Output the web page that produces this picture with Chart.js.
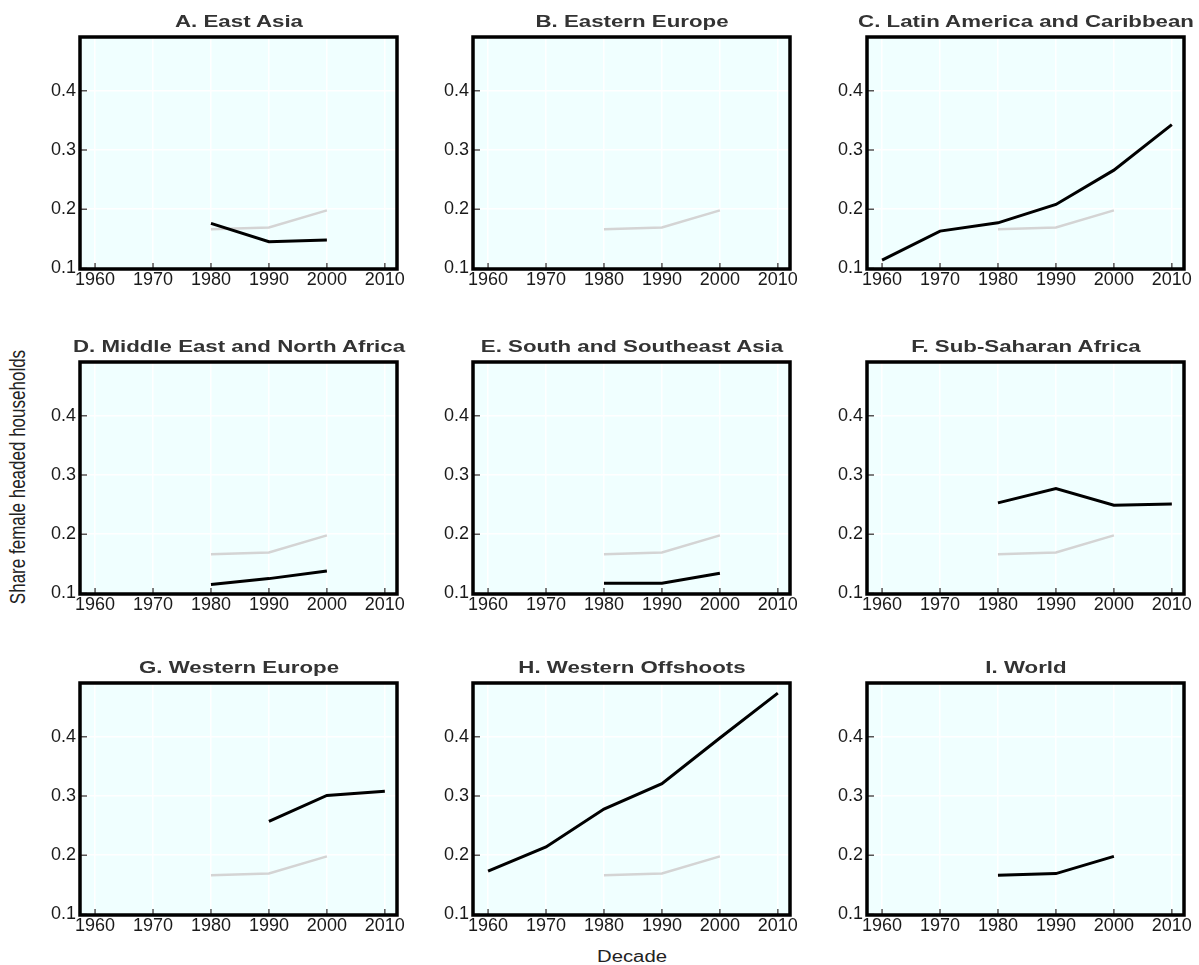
<!DOCTYPE html>
<html>
<head>
<meta charset="utf-8">
<script src="https://cdn.jsdelivr.net/npm/chart.js@4.4.0/dist/chart.umd.min.js"></script>
<style>
  body { margin: 0; background: #fff; }
  #page { position: relative; width: 1199px; height: 965px; overflow: hidden; background: #fff; }
  .panel { position: absolute; }
  .title {
    position: absolute; white-space: nowrap; color: #333;
    font: bold 16.5px "Liberation Sans", Arial, sans-serif;
    transform: translate(-50%, -50%) scaleX(1.35);
  }
  #ytitle {
    position: absolute; left: 19px; top: 477px; white-space: nowrap; color: #222;
    font: 17px "Liberation Sans", Arial, sans-serif;
    transform: translate(-50%, -50%) rotate(-90deg) scaleY(1.25);
  }
  #xtitle {
    position: absolute; left: 632px; top: 957px; white-space: nowrap; color: #222;
    font: 16px "Liberation Sans", Arial, sans-serif;
    transform: translate(-50%, -50%) scaleX(1.27);
  }
</style>
</head>
<body>
<div id="page">
  <div id="ytitle">Share female headed households</div>
  <div id="xtitle">Decade</div>
</div>
<script>
  const decades = [1960, 1970, 1980, 1990, 2000, 2010];
  const yTicks = [0.1, 0.2, 0.3, 0.4];

  // grey reference line = world
  const world            = [null, null, 0.166, 0.169, 0.198, null];
  const eastAsia         = [null, null, 0.176, 0.145, 0.148, null];
  const easternEurope    = [null, null, null, null, null, null];
  const latinAmerica     = [0.114, 0.163, 0.177, 0.208, 0.266, 0.343];
  const middleEast       = [null, null, 0.115, 0.125, 0.138, null];
  const southAsia        = [null, null, 0.117, 0.117, 0.134, null];
  const subSaharan       = [null, null, 0.253, 0.277, 0.249, 0.251];
  const westernEurope    = [null, null, null, 0.257, 0.301, 0.308];
  const westernOffshoots = [0.173, 0.214, 0.278, 0.321, 0.398, 0.474];

  const panelTitles = [
    "A. East Asia", "B. Eastern Europe", "C. Latin America and Caribbean",
    "D. Middle East and North Africa", "E. South and Southeast Asia", "F. Sub-Saharan Africa",
    "G. Western Europe", "H. Western Offshoots", "I. World"
  ];
  const panelSeries = [
    eastAsia, easternEurope, latinAmerica,
    middleEast, southAsia, subSaharan,
    westernEurope, westernOffshoots, world
  ];

  // plot-area layout
  const colLeft = [80, 473, 867];
  const rowTop = [37, 362, 683];
  const plotW = 317, plotH = 232;
  const padL = 60, padT = 10, padR = 20, padB = 28;

  const page = document.getElementById("page");

  const panelFrame = {
    id: "panelFrame",
    beforeDraw(chart) {
      const { ctx, chartArea: a } = chart;
      ctx.save();
      ctx.fillStyle = "#f0ffff";
      ctx.fillRect(a.left, a.top, a.width, a.height);
      ctx.restore();
    },
    afterDraw(chart) {
      const { ctx, chartArea: a, scales } = chart;
      ctx.save();
      ctx.strokeStyle = "#555";
      ctx.lineWidth = 1.5;
      ctx.beginPath();
      scales.y.ticks.forEach(t => {
        const y = scales.y.getPixelForValue(t.value);
        ctx.moveTo(a.left, y);
        ctx.lineTo(a.left + 7, y);
      });
      scales.x.ticks.forEach(t => {
        const x = scales.x.getPixelForValue(t.value);
        ctx.moveTo(x, a.bottom);
        ctx.lineTo(x, a.bottom - 6);
      });
      ctx.stroke();
      ctx.strokeStyle = "#000";
      ctx.lineWidth = 3.5;
      ctx.strokeRect(a.left, a.top, a.width, a.height);
      ctx.restore();
    }
  };

  function toPoints(values) {
    return decades.map((d, i) => ({ x: d, y: values[i] }));
  }

  panelTitles.forEach((title, i) => {
    const col = i % 3, row = Math.floor(i / 3);
    const left = colLeft[col], top = rowTop[row];

    const wrap = document.createElement("div");
    wrap.className = "panel";
    wrap.style.left = (left - padL) + "px";
    wrap.style.top = (top - padT) + "px";
    const canvas = document.createElement("canvas");
    canvas.width = padL + plotW + padR;
    canvas.height = padT + plotH + padB;
    wrap.appendChild(canvas);
    page.appendChild(wrap);

    const t = document.createElement("div");
    t.className = "title";
    t.textContent = title;
    t.style.left = (left + plotW / 2) + "px";
    t.style.top = (top - 16) + "px";
    page.appendChild(t);

    const datasets = [{
      data: toPoints(panelSeries[i]),
      borderColor: "#000",
      borderWidth: 3,
      pointRadius: 0,
      tension: 0,
      spanGaps: false
    }];
    if (i !== 8) {
      datasets.push({
        data: toPoints(world),
        borderColor: "#d4d4d4",
        borderWidth: 2.5,
        pointRadius: 0,
        tension: 0,
        spanGaps: false
      });
    }

    const tickFont = { family: "Liberation Sans", size: 18 };

    new Chart(canvas, {
      type: "line",
      data: { datasets },
      options: {
        responsive: false,
        animation: false,
        layout: { padding: { top: padT, right: padR, left: 0, bottom: 0 } },
        plugins: { legend: { display: false }, tooltip: { enabled: false } },
        scales: {
          x: {
            type: "linear",
            min: 1957.4,
            max: 2012.1,
            afterBuildTicks: s => { s.ticks = decades.map(v => ({ value: v })); },
            afterFit: s => { s.height = padB; s.paddingLeft = 0; s.paddingRight = 0; },
            grid: { color: "#ffffff", lineWidth: 1.5, drawTicks: false },
            border: { display: false },
            ticks: {
              color: "#1a1a1a",
              font: tickFont,
              padding: 0,
              maxRotation: 0,
              autoSkip: false,
              callback: v => String(v)
            }
          },
          y: {
            min: 0.099,
            max: 0.491,
            afterBuildTicks: s => { s.ticks = yTicks.map(v => ({ value: v })); },
            afterFit: s => { s.width = padL; s.paddingTop = 0; s.paddingBottom = 0; },
            grid: { color: "#ffffff", lineWidth: 1.5, drawTicks: false },
            border: { display: false },
            ticks: {
              color: "#1a1a1a",
              font: tickFont,
              padding: 4,
              callback: v => v.toFixed(1)
            }
          }
        }
      },
      plugins: [panelFrame]
    });
  });
</script>
</body>
</html>
